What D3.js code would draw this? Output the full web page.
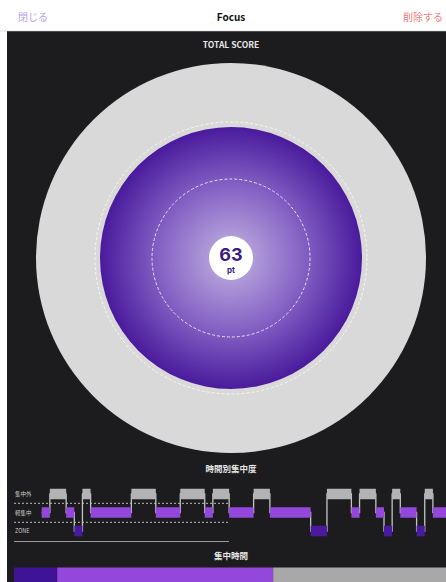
<!DOCTYPE html>
<html>
<head>
<meta charset="utf-8">
<script src="https://cdn.jsdelivr.net/npm/d3@7"></script>
<style>
  html, body { margin: 0; padding: 0; background: #fff; }
  svg { display: block; font-family: "Noto Sans CJK JP", "Noto Sans", sans-serif; }
</style>
</head>
<body>
<div id="chart"></div>
<script>
// score shown in the middle
const totalScore = 63;

// focus states, top to bottom
const levels = ["集中外", "軽集中", "ZONE"];
// timeline segments: state index + length in slots
const segLevels  = [1, 0, 1, 2, 0, 1, 0, 1, 0, 1, 0, 1, 0, 1, 2, 0, 1, 0, 1, 2, 0, 1, 2, 0, 1];
const segLengths = [1, 2, 1, 1, 1, 5, 3, 3, 3, 1, 2, 3, 2, 5, 2, 3, 1, 2, 1, 1, 1, 2, 1, 1, 2];

const W = 446, H = 582;
const levelColor = { "集中外": "#b3b3b3", "軽集中": "#9348db", "ZONE": "#4a1a9e" };

const svg = d3.select('#chart').append('svg')
  .attr('width', W).attr('height', H);

// panel + top bar
svg.append('rect').attr('x', 7).attr('y', 31).attr('width', W - 7).attr('height', H - 31).attr('fill', '#1c1c1e');
svg.append('line').attr('x1', 0).attr('x2', W).attr('y1', 31).attr('y2', 31).attr('stroke', '#c8c8c8').attr('stroke-width', 0.6);

svg.append('text').attr('x', 18).attr('y', 21).text('閉じる')
  .attr('font-size', 10).attr('fill', '#b8a0ea');
svg.append('text').attr('x', 231).attr('y', 21).attr('text-anchor', 'middle').text('Focus')
  .attr('font-size', 10).attr('font-weight', 'bold').attr('fill', '#111');
svg.append('text').attr('x', 443).attr('y', 21).attr('text-anchor', 'end').text('削除する')
  .attr('font-size', 10).attr('fill', '#f07d7d');

const title = (t, y) => svg.append('text').attr('x', 231).attr('y', y).attr('text-anchor', 'middle')
  .text(t).attr('font-size', 8.5).attr('font-weight', 'bold').attr('fill', '#e6e6e6');
title('TOTAL SCORE', 48);
title('時間別集中度', 472);
title('集中時間', 559);

// score disc
const cx = 231, cy = 258;
const defs = svg.append('defs');
const grad = defs.append('radialGradient').attr('id', 'g');
grad.append('stop').attr('offset', '0%').attr('stop-color', '#c4b4e2');
grad.append('stop').attr('offset', '55%').attr('stop-color', '#8462c4');
grad.append('stop').attr('offset', '100%').attr('stop-color', '#4a1a9c');

svg.append('circle').attr('cx', cx).attr('cy', cy).attr('r', 195).attr('fill', '#d9d9d9');
svg.append('circle').attr('cx', cx).attr('cy', cy).attr('r', 136).attr('fill', 'none')
  .attr('stroke', '#fbf7ea').attr('stroke-width', 1).attr('stroke-dasharray', '3,2');
svg.append('circle').attr('cx', cx).attr('cy', cy).attr('r', 131).attr('fill', 'url(#g)');
svg.append('circle').attr('cx', cx).attr('cy', cy).attr('r', 79).attr('fill', 'none')
  .attr('stroke', '#e8e0f5').attr('stroke-width', 1).attr('stroke-dasharray', '3,2');
svg.append('circle').attr('cx', cx).attr('cy', cy).attr('r', 22).attr('fill', '#fff');
svg.append('text').attr('x', cx).attr('y', cy + 3).attr('text-anchor', 'middle')
  .text(totalScore).attr('font-family', 'Inter, sans-serif').attr('font-size', 18).attr('font-weight', 'bold').attr('fill', '#3a1c7c');
svg.append('text').attr('x', cx).attr('y', cy + 15).attr('text-anchor', 'middle')
  .text('pt').attr('font-family', 'Inter, sans-serif').attr('font-size', 8).attr('font-weight', 'bold').attr('fill', '#3a1c7c');

// step chart
const starts = segLengths.map((d, i) => d3.sum(segLengths.slice(0, i)));
const total = d3.sum(segLengths);
const segs = segLevels.map((l, i) => ({ level: levels[l], start: starts[i], len: segLengths[i] }));

const x = d3.scaleLinear().domain([0, total]).range([41.7, 449.2]);
const y = d3.scalePoint().domain(levels).range([494, 531]);
const bandH = 10.5;

svg.selectAll('.lvl').data(levels).enter().append('text')
  .attr('x', 15).attr('y', d => y(d) + 2).text(d => d)
  .attr('font-size', 5.5).attr('fill', '#cfcfcf');

[503.3, 522.3].forEach(yy => svg.append('line').attr('x1', 14).attr('x2', 229).attr('y1', yy).attr('y2', yy)
  .attr('stroke', '#bdbdbd').attr('stroke-width', 1).attr('stroke-dasharray', '2,2'));
svg.append('line').attr('x1', 14).attr('x2', 229).attr('y1', 541.5).attr('y2', 541.5)
  .attr('stroke', '#9a9a9a').attr('stroke-width', 1.2);

const pts = segs.map(d => [d.start, d.level]).concat([[total, segs[segs.length - 1].level]]);
svg.append('path').datum(pts)
  .attr('d', d3.line().x(d => x(d[0])).y(d => y(d[1])).curve(d3.curveStepAfter))
  .attr('fill', 'none').attr('stroke', '#c4c4c4').attr('stroke-width', 1.3);

svg.selectAll('.seg').data(segs).enter().append('rect')
  .attr('x', d => x(d.start)).attr('width', d => x(d.start + d.len) - x(d.start))
  .attr('y', d => y(d.level) - bandH / 2).attr('height', bandH)
  .attr('fill', d => levelColor[d.level]);

// total time bar, ZONE first
const order = ["ZONE", "軽集中", "集中外"];
const sums = order.map(l => d3.sum(segs.filter(s => s.level === l), s => s.len));
const barColor = { "ZONE": "#3e1396", "軽集中": "#9348db", "集中外": "#a8a8a8" };
const bx = d3.scaleLinear().domain([0, total]).range([14, 446]);
svg.selectAll('.tb').data(order).enter().append('rect')
  .attr('x', (d, i) => bx(d3.sum(sums.slice(0, i))))
  .attr('width', (d, i) => bx(sums[i]) - bx(0))
  .attr('y', 567.5).attr('height', 15)
  .attr('fill', d => barColor[d]);
</script>
</body>
</html>
